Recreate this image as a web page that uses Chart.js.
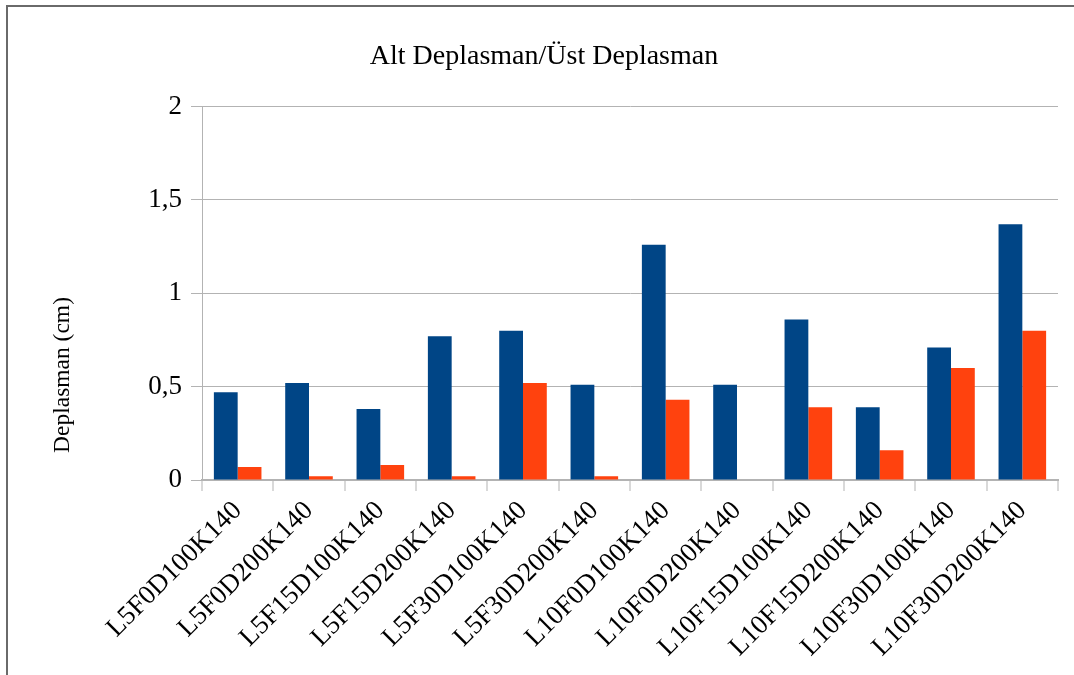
<!DOCTYPE html>
<html>
<head>
<meta charset="utf-8">
<script src="https://cdn.jsdelivr.net/npm/chart.js@4/dist/chart.umd.min.js"></script>
<style>
  html, body { margin: 0; padding: 0; background: #fff; }
  #wrap { position: relative; width: 1074px; height: 675px; overflow: hidden; }
  #frame { position: absolute; left: 6px; top: 5px; width: 1100px; height: 700px;
           border-left: 2px solid #6a6a6a; border-top: 2px solid #6a6a6a; pointer-events: none; }
  #ytitle { position: absolute; left: 62px; top: 375px; transform: translate(-50%, -50%) rotate(-90deg);
            white-space: nowrap; font-family: 'Liberation Serif', 'Times New Roman', serif;
            font-size: 23.5px; color: #000; line-height: 1; }
  canvas { position: absolute; left: 0; top: 0; }
</style>
</head>
<body>
<div id="wrap">
  <canvas id="c" width="1074" height="675"></canvas>
  <div id="ytitle">Deplasman (cm)</div>
  <div id="frame"></div>
</div>
<script>
// Test specimens
const categories = [
  'L5F0D100K140', 'L5F0D200K140', 'L5F15D100K140', 'L5F15D200K140',
  'L5F30D100K140', 'L5F30D200K140', 'L10F0D100K140', 'L10F0D200K140',
  'L10F15D100K140', 'L10F15D200K140', 'L10F30D100K140', 'L10F30D200K140'
];
// Displacement values (cm)
const altDeplasman = [0.47, 0.52, 0.38, 0.77, 0.80, 0.51, 1.26, 0.51, 0.86, 0.39, 0.71, 1.37];
const ustDeplasman = [0.07, 0.02, 0.08, 0.02, 0.52, 0.02, 0.43, 0.00, 0.39, 0.16, 0.60, 0.80];
const yTickValues = [0, 0.5, 1, 1.5, 2];

const serif = "'Liberation Serif', 'Times New Roman', serif";
const gridGray = '#b3b3b3';

new Chart(document.getElementById('c'), {
  type: 'bar',
  data: {
    labels: categories,
    datasets: [
      { label: 'Alt Deplasman', data: altDeplasman, backgroundColor: '#004586',
        categoryPercentage: 0.667, barPercentage: 1.0 },
      { label: 'Üst Deplasman', data: ustDeplasman, backgroundColor: '#ff420e',
        categoryPercentage: 0.667, barPercentage: 1.0 }
    ]
  },
  options: {
    responsive: false,
    devicePixelRatio: 1,
    animation: false,
    layout: { padding: { left: 30, right: 16, top: 0, bottom: 0 } },
    plugins: {
      legend: { display: false },
      tooltip: { enabled: false },
      title: {
        display: true,
        text: 'Alt Deplasman/Üst Deplasman',
        color: '#000',
        font: { family: serif, size: 28, weight: 'normal' },
        padding: { top: 40, bottom: 33 }
      }
    },
    scales: {
      x: {
        grid: {
          offset: true,
          drawOnChartArea: true,
          color: ctx => (ctx.index === categories.length ? '#cccccc' : 'rgba(0,0,0,0)'),
          lineWidth: 2,
          tickColor: gridGray,
          tickWidth: 1,
          tickLength: 11
        },
        border: { color: gridGray, width: 2 },
        ticks: {
          color: '#000',
          font: { family: serif, size: 27 },
          minRotation: 45,
          maxRotation: 45,
          autoSkip: false,
          padding: 4
        },
        afterFit: s => { s.height = 195; }
      },
      y: {
        min: 0,
        max: 2,
        afterBuildTicks: s => { s.ticks = yTickValues.map(v => ({ value: v })); },
        grid: { color: gridGray, lineWidth: 1, tickLength: 11 },
        border: { color: gridGray, width: 1 },
        ticks: {
          color: '#000',
          font: { family: serif, size: 27 },
          padding: 9,
          callback: v => String(v).replace('.', ',')
        },
        afterFit: s => { s.width = 172; }
      }
    }
  }
});
</script>
</body>
</html>
